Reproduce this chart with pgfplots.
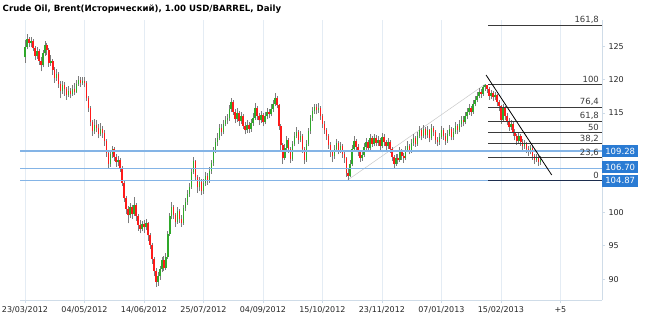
\documentclass[border=0pt]{standalone}
\usepackage{fontspec}
\setmainfont{DejaVu Sans}
\usepackage{pgfplots}
\usepackage{pgfplotstable}
\pgfplotsset{compat=1.18}
\definecolor{upc}{HTML}{2FA82A}
\definecolor{dnc}{HTML}{FF1A1A}
\definecolor{wick}{HTML}{7C7C7C}
\definecolor{lvl}{HTML}{84B4E6}
\definecolor{boxc}{HTML}{2A7BD3}
\definecolor{gridc}{HTML}{E4ECF4}
\definecolor{axc}{HTML}{CFDCE8}
\definecolor{fibc}{HTML}{3A3A3A}
\definecolor{zeroc}{HTML}{1C2D4E}
\definecolor{chan}{HTML}{C8C8C8}
\tikzset{
  fiblab/.style={anchor=base east, inner sep=0pt, yshift=2pt, font=\fontsize{8.5}{9}\selectfont, text=fibc},
  lvlbox/.style={anchor=west, fill=boxc, text=white, minimum width=36pt, minimum height=12pt, inner sep=0pt, font=\fontsize{8.5}{9}\selectfont}
}

% daily high and low
\pgfplotstableread{
i h l
0 126.0 122.6
1 126.9 124.6
2 126.5 125.0
3 126.4 124.9
4 126.2 124.3
5 125.1 123.0
6 124.9 123.2
7 124.6 122.3
8 123.5 121.3
9 124.5 121.9
10 125.9 123.6
11 125.6 123.8
12 124.8 122.0
13 123.8 122.1
14 123.1 120.8
15 121.9 119.6
16 121.6 119.9
17 121.2 118.8
18 119.8 117.2
19 119.9 117.9
20 119.7 117.6
21 119.0 117.0
22 119.1 117.4
23 118.8 117.2
24 119.3 117.6
25 119.6 117.8
26 120.0 118.0
27 120.6 119.1
28 120.4 119.0
29 120.5 119.2
30 120.4 118.9
31 119.8 116.8
32 117.5 115.2
33 116.0 113.0
34 114.0 111.6
35 114.1 111.9
36 113.9 112.1
37 113.3 111.2
38 113.5 111.5
39 113.1 111.3
40 112.4 110.1
41 111.1 108.4
42 109.2 106.7
43 109.4 106.9
44 110.0 108.2
45 109.9 107.8
46 108.9 106.9
47 108.6 107.0
48 108.3 106.1
49 107.0 104.0
50 104.8 101.6
51 102.5 99.8
52 101.0 98.4
53 101.5 99.2
54 101.2 99.1
55 102.4 99.5
56 101.4 98.8
57 99.8 97.3
58 98.9 96.9
59 98.8 97.2
60 98.9 97.0
61 99.0 97.4
62 98.6 95.8
63 96.9 94.6
64 95.4 92.3
65 93.3 90.4
66 91.6 88.8
67 91.0 89.0
68 92.0 89.9
69 93.3 91.0
70 93.5 91.2
71 94.0 91.4
72 97.2 93.1
73 100.0 96.5
74 101.6 99.0
75 101.1 99.0
76 99.9 97.9
77 100.8 98.3
78 100.6 98.5
79 99.6 97.9
80 101.2 98.2
81 102.2 100.3
82 103.4 101.2
83 104.5 102.4
84 106.8 103.6
85 108.4 105.8
86 108.0 104.9
87 105.7 103.0
88 105.3 103.2
89 105.0 102.6
90 105.0 102.8
91 106.2 104.0
92 106.0 104.2
93 106.9 104.5
94 108.0 105.9
95 109.9 107.1
96 111.2 109.0
97 112.0 110.1
98 113.3 110.9
99 113.4 111.6
100 113.9 111.8
101 114.6 113.0
102 114.9 113.3
103 116.2 113.8
104 117.3 115.2
105 116.9 114.7
106 115.6 113.5
107 115.8 113.7
108 115.3 113.1
109 115.2 113.4
110 114.9 112.6
111 113.6 111.8
112 113.9 112.0
113 113.6 112.0
114 114.1 112.2
115 115.0 113.1
116 116.5 114.0
117 116.0 114.0
118 115.0 113.2
119 115.3 113.5
120 115.0 113.0
121 115.1 113.3
122 115.7 114.1
123 115.6 114.2
124 116.3 114.5
125 117.0 115.2
126 118.1 116.0
127 117.6 115.7
128 116.4 112.5
129 113.3 109.5
130 110.5 107.4
131 110.4 107.9
132 111.6 109.4
133 111.2 109.0
134 109.9 107.5
135 110.8 107.8
136 112.2 110.0
137 112.9 111.2
138 112.5 110.4
139 112.3 110.6
140 111.8 109.0
141 109.9 107.4
142 110.9 107.7
143 112.8 110.0
144 114.7 111.9
145 115.9 113.8
146 116.4 114.9
147 116.3 114.8
148 116.5 115.0
149 116.1 114.0
150 114.9 112.8
151 113.8 111.9
152 112.8 111.0
153 111.9 109.6
154 110.6 108.4
155 109.5 107.6
156 110.2 108.1
157 111.1 109.2
158 110.8 108.8
159 110.7 109.0
160 110.4 108.3
161 109.3 107.5
162 108.4 105.4
163 106.8 104.87
164 107.9 105.3
165 110.2 107.0
166 111.5 109.2
167 111.1 109.3
168 110.3 108.5
169 109.5 107.6
170 109.3 107.8
171 110.5 108.4
172 111.3 109.5
173 111.0 109.2
174 111.8 109.5
175 111.6 109.9
176 111.9 110.0
177 111.7 110.0
178 111.6 110.1
179 111.3 109.5
180 112.0 109.8
181 111.8 110.0
182 111.0 109.4
183 111.3 109.6
184 111.0 109.0
185 109.9 107.8
186 108.7 106.8
187 108.9 107.0
188 108.8 107.3
189 109.9 107.7
190 109.6 108.0
191 109.0 107.5
192 110.1 107.9
193 110.8 109.1
194 110.4 108.8
195 111.1 109.0
196 111.8 110.1
197 111.5 109.9
198 112.2 110.1
199 113.0 111.2
200 112.7 110.9
201 113.2 111.2
202 112.9 111.1
203 113.0 111.3
204 112.6 110.6
205 113.3 110.9
206 113.1 111.5
207 112.4 110.4
208 111.4 110.0
209 112.0 110.2
210 113.1 111.1
211 112.8 111.0
212 112.0 110.2
213 112.5 110.5
214 113.2 111.5
215 112.9 110.9
216 112.8 111.0
217 113.6 111.8
218 113.3 111.8
219 113.9 112.1
220 114.6 112.9
221 114.5 113.0
222 115.1 113.3
223 115.7 114.1
224 116.3 114.7
225 116.1 114.6
226 117.0 114.9
227 117.6 116.0
228 118.2 116.6
229 118.8 117.2
230 118.7 117.3
231 119.3 117.6
232 119.34 118.4
233 119.3 118.0
234 119.0 117.0
235 118.5 117.1
236 118.3 116.8
237 118.2 117.0
238 117.9 116.0
239 117.0 115.3
240 116.2 113.4
241 116.4 113.7
242 116.0 114.0
243 115.0 113.2
244 114.2 112.3
245 114.0 112.5
246 113.7 111.6
247 112.6 110.9
248 111.9 110.2
249 112.2 110.4
250 111.9 110.1
251 111.1 109.4
252 111.0 109.6
253 110.7 109.0
254 110.0 108.5
255 110.2 108.8
256 110.0 108.0
257 108.9 107.4
258 108.9 107.6
259 108.7 107.0
260 108.5 107.2
}\wicks

% rising days: open, close
\pgfplotstableread{
i o c
0 123.4 125.0
1 125.0 126.2
3 125.6 125.9
6 123.6 124.4
9 122.2 124.0
10 124.0 125.2
13 122.6 122.9
16 120.3 120.9
19 118.3 119.2
22 117.8 118.4
24 117.9 118.7
26 118.2 119.4
27 119.4 120.0
29 119.5 119.9
35 112.3 113.2
38 111.9 112.6
43 107.3 108.8
44 108.8 109.6
47 107.6 108.0
53 99.6 100.8
55 99.8 101.2
59 97.6 98.3
61 97.8 98.4
67 89.6 90.4
68 90.4 91.5
69 91.5 92.8
71 91.7 93.4
72 93.4 96.8
73 96.8 99.5
74 99.5 100.8
77 98.6 100.2
80 98.5 100.7
81 100.7 101.6
82 101.6 102.8
83 102.8 103.9
84 103.9 106.2
85 106.2 107.8
88 103.8 104.6
90 103.2 104.4
91 104.4 105.6
93 104.9 106.3
94 106.3 107.5
95 107.5 109.4
96 109.4 110.6
97 110.6 111.3
98 111.3 112.8
100 112.2 113.4
101 113.4 113.9
102 113.9 114.2
103 114.2 115.6
104 115.6 116.7
107 114.1 115.0
109 113.8 114.6
112 112.4 113.2
114 112.6 113.5
115 113.5 114.3
116 114.3 115.8
119 113.9 114.7
121 113.6 114.5
122 114.5 115.1
124 114.8 115.6
125 115.6 116.3
126 116.3 117.3
131 108.3 109.8
132 109.8 110.9
135 108.1 110.3
136 110.3 111.6
137 111.6 112.2
139 111.0 111.6
142 108.0 110.4
143 110.4 112.3
144 112.3 114.2
145 114.2 115.3
146 115.3 115.9
148 115.4 115.8
156 108.5 109.6
157 109.6 110.5
159 109.4 110.1
164 105.6 107.3
165 107.3 109.6
166 109.6 110.8
170 108.2 108.7
171 108.7 109.9
172 109.9 110.6
174 109.8 111.2
176 110.4 111.3
178 110.5 111.0
180 110.1 111.4
183 110.0 110.7
187 107.4 108.2
189 108.0 109.3
192 108.2 109.5
193 109.5 110.1
195 109.4 110.5
196 110.5 111.2
198 110.4 111.6
199 111.6 112.4
201 111.5 112.6
203 111.7 112.4
205 111.2 112.7
209 110.6 111.4
210 111.4 112.5
213 110.8 111.9
214 111.9 112.6
216 111.4 112.2
217 112.2 113.0
219 112.4 113.3
220 113.3 114.0
222 113.6 114.5
223 114.5 115.1
224 115.1 115.7
226 115.2 116.4
227 116.4 117.0
228 117.0 117.6
229 117.6 118.2
231 117.9 118.9
232 118.9 119.2
235 117.6 118.0
237 117.4 117.7
241 114.0 115.8
245 112.9 113.4
249 110.8 111.6
252 110.0 110.4
255 109.1 109.7
258 108.0 108.4
260 107.6 108.0
}\updays

% falling days: open, close
\pgfplotstableread{
i o c
2 126.2 125.6
4 125.9 124.8
5 124.8 123.6
7 124.4 122.9
8 122.9 122.2
11 125.2 124.5
12 124.5 122.6
14 122.9 121.5
15 121.5 120.3
17 120.9 119.4
18 119.4 118.3
20 119.2 118.6
21 118.6 117.8
23 118.4 117.9
25 118.7 118.2
28 120.0 119.5
30 119.9 119.6
31 119.6 117.2
32 117.2 115.8
33 115.8 113.6
34 113.6 112.3
36 113.2 112.8
37 112.8 111.9
39 112.6 112.0
40 112.0 110.8
41 110.8 109.0
42 109.0 107.3
45 109.6 108.4
46 108.4 107.6
48 108.0 106.8
49 106.8 104.5
50 104.5 102.2
51 102.2 100.6
52 100.6 99.6
54 100.8 99.8
56 101.2 99.5
57 99.5 98.2
58 98.2 97.6
60 98.3 97.8
62 98.4 96.6
63 96.6 95.2
64 95.2 93.0
65 93.0 91.2
66 91.2 89.6
70 92.8 91.7
75 100.8 99.6
76 99.6 98.6
78 100.2 99.1
79 99.1 98.5
86 107.8 105.4
87 105.4 103.8
89 104.6 103.2
92 105.6 104.9
99 112.8 112.2
105 116.7 115.2
106 115.2 114.1
108 115.0 113.8
110 114.6 113.1
111 113.1 112.4
113 113.2 112.6
117 115.8 114.6
118 114.6 113.9
120 114.7 113.6
123 115.1 114.8
127 117.3 116.2
128 116.2 113.0
129 113.0 110.2
130 110.2 108.3
133 110.9 109.6
134 109.6 108.1
138 112.2 111.0
140 111.6 109.6
141 109.6 108.0
147 115.9 115.4
149 115.8 114.6
150 114.6 113.4
151 113.4 112.5
152 112.5 111.6
153 111.6 110.2
154 110.2 109.1
155 109.1 108.5
158 110.5 109.4
160 110.1 108.9
161 108.9 108.2
162 108.2 106.0
163 106.0 105.6
167 110.8 109.9
168 109.9 109.1
169 109.1 108.2
173 110.6 109.8
175 111.2 110.4
177 111.3 110.5
179 111.0 110.1
181 111.4 110.6
182 110.6 110.0
184 110.7 109.6
185 109.6 108.4
186 108.4 107.4
188 108.2 108.0
190 109.3 108.6
191 108.6 108.2
194 110.1 109.4
197 111.2 110.4
200 112.4 111.5
202 112.6 111.7
204 112.4 111.2
206 112.7 112.1
207 112.1 111.0
208 111.0 110.6
211 112.5 111.6
212 111.6 110.8
215 112.6 111.4
218 113.0 112.4
221 114.0 113.6
225 115.7 115.2
230 118.2 117.9
233 119.2 118.7
234 118.7 117.6
236 118.0 117.4
238 117.7 116.6
239 116.6 116.0
240 116.0 114.0
242 115.8 114.6
243 114.6 113.8
244 113.8 112.9
246 113.4 112.2
247 112.2 111.5
248 111.5 110.8
250 111.6 110.7
251 110.7 110.0
253 110.4 109.6
254 109.6 109.1
256 109.7 108.6
257 108.6 108.0
259 108.4 107.6
}\dndays

\begin{document}
\begin{tikzpicture}[x=1pt,y=1pt]
\useasboundingbox (0,0) rectangle (650,322);
\node[anchor=west, inner sep=0, font=\bfseries\fontsize{8.6}{10}\selectfont] at (2.5,313) {Crude Oil, Brent(Исторический), 1.00 USD/BARREL, Daily};
\begin{axis}[
  at={(20pt,22pt)}, anchor=south west,
  scale only axis, width=582pt, height=280pt,
  xmin=-2.52, xmax=290.97, ymin=86.85, ymax=129.02,
  axis x line*=bottom, axis y line*=right,
  axis line style={draw=axc, line width=0.8pt},
  xtick={0,30,...,270},
  xticklabels={23/03/2012,04/05/2012,14/06/2012,25/07/2012,04/09/2012,15/10/2012,23/11/2012,07/01/2013,15/02/2013,+5},
  ytick={90,95,100,115,120,125},
  tick align=outside, major tick length=3pt,
  tick style={draw=axc, line width=0.8pt},
  xmajorgrids, grid style={draw=gridc, line width=0.8pt},
  ticklabel style={font=\fontsize{8}{9}\selectfont, text=black!85},
  /pgf/number format/assume math mode=true,
  clip=false,
]
% channel line
\addplot[chan, line width=0.5pt, forget plot] coordinates {(162.5,104.87) (232,119.34)};

% wicks: segment from low to high
\addplot[draw=wick, line width=0.65pt, mark=none, forget plot,
  quiver={u=0, v=\thisrow{h}-\thisrow{l}}]
  table[x=i, y=l] {\wicks};
% rising bodies: open up to close
\addplot[draw=upc, line width=1.5pt, mark=none, forget plot,
  quiver={u=0, v=\thisrow{c}-\thisrow{o}}]
  table[x=i, y=o] {\updays};
% falling bodies: close up to open
\addplot[draw=dnc, line width=1.5pt, mark=none, forget plot,
  quiver={u=0, v=\thisrow{o}-\thisrow{c}}]
  table[x=i, y=c] {\dndays};

% horizontal levels
\addplot[lvl, line width=1.3pt, forget plot] coordinates {(-2.52,109.28) (290.97,109.28)};
\addplot[lvl, line width=1.3pt, forget plot] coordinates {(-2.52,106.70) (290.97,106.70)};
\addplot[lvl, line width=1.3pt, forget plot] coordinates {(-2.52,104.87) (290.97,104.87)};

% fibonacci levels
\addplot[fibc, line width=0.8pt, forget plot] coordinates {(233.6,128.28) (290.97,128.28)};
\addplot[fibc, line width=0.8pt, forget plot] coordinates {(233.6,119.34) (290.97,119.34)};
\addplot[fibc, line width=0.8pt, forget plot] coordinates {(233.6,115.92) (290.97,115.92)};
\addplot[fibc, line width=0.8pt, forget plot] coordinates {(233.6,113.81) (290.97,113.81)};
\addplot[fibc, line width=0.8pt, forget plot] coordinates {(233.6,112.10) (290.97,112.10)};
\addplot[fibc, line width=0.8pt, forget plot] coordinates {(233.6,110.40) (290.97,110.40)};
\addplot[fibc, line width=0.8pt, forget plot] coordinates {(233.6,108.28) (290.97,108.28)};
\addplot[zeroc, line width=1.1pt, forget plot] coordinates {(233.6,104.87) (290.97,104.87)};

% trend line
\addplot[black, line width=0.8pt, forget plot] coordinates {(232.5,120.74) (265.6,105.68)};

\node[fiblab] at (axis cs:289.5,128.28) {161,8};
\node[fiblab] at (axis cs:289.5,119.34) {100};
\node[fiblab] at (axis cs:289.5,115.92) {76,4};
\node[fiblab] at (axis cs:289.5,113.81) {61,8};
\node[fiblab] at (axis cs:289.5,112.10) {50};
\node[fiblab] at (axis cs:289.5,110.40) {38,2};
\node[fiblab] at (axis cs:289.5,108.28) {23,6};
\node[fiblab] at (axis cs:289.5,104.87) {0};

\node[lvlbox] at (axis cs:290.97,109.28) {109.28};
\node[lvlbox, yshift=0.8pt] at (axis cs:290.97,106.70) {106.70};
\node[lvlbox, yshift=-0.2pt] at (axis cs:290.97,104.87) {104.87};
\end{axis}
\end{tikzpicture}
\end{document}
